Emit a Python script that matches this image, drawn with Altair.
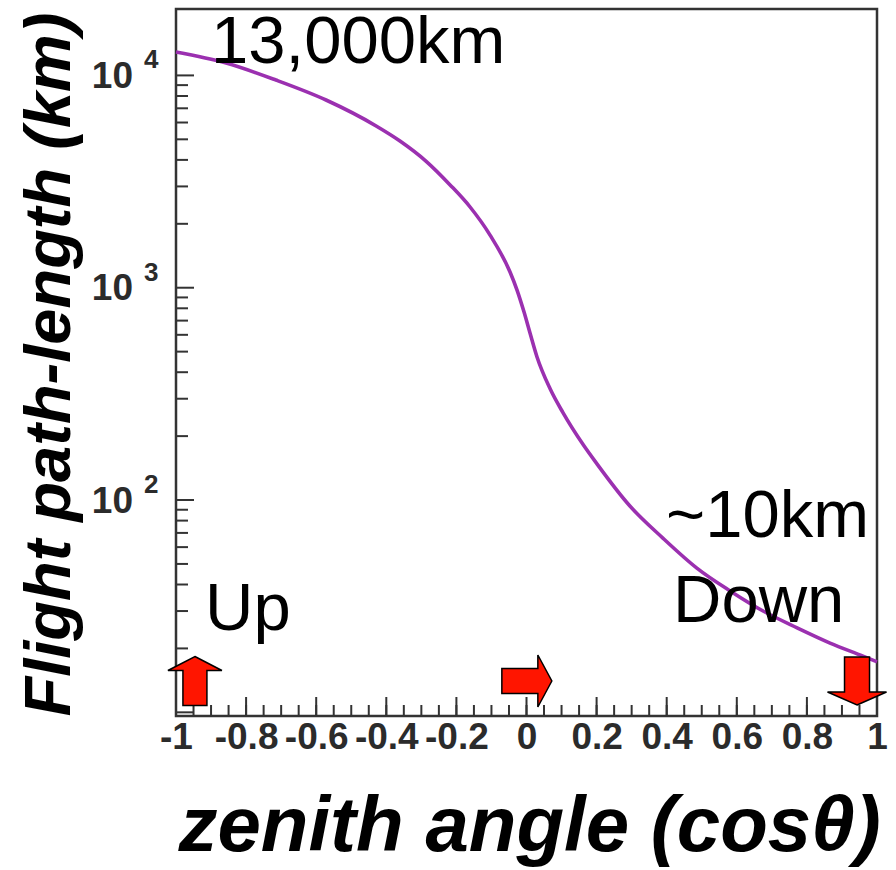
import altair as alt
import pandas as pd

# ---- data ----
cos_theta = [-1.0, -0.857, -0.715, -0.572, -0.429, -0.361, -0.287, -0.218, -0.161,
             -0.104, -0.047, -0.027, -0.007, 0.010, 0.030, 0.067, 0.104, 0.161,
             0.201, 0.295, 0.389, 0.486, 0.581, 0.675, 0.772, 0.866, 0.960, 1.0]
path_km = [12890, 11440, 9510, 7660, 5780, 4910, 3950, 3050, 2400,
           1770, 1186, 975, 768, 612, 472, 335, 258, 183,
           148, 93.7, 66.2, 47.8, 37.3, 30.0, 25.0, 21.2, 18.4, 17.3]

x_label_values = [-1, -0.8, -0.6, -0.4, -0.2, 0, 0.2, 0.4, 0.6, 0.8, 1]
x_minor_values = [round(-1 + 0.05 * i, 2) for i in range(41)]
y_major_values = [10, 100, 1000, 10000]
y_minor_values = [m * 10 ** e for e in (1, 2, 3) for m in range(2, 10)]
y_label_values = [100, 1000, 10000]
y_label_base = ["10", "10", "10"]
y_label_exp = ["2", "3", "4"]

annotations = ["13,000km", "~10km", "Up", "Down"]
arrow_x = [-0.946, 0.001, 0.943]

FONT = "Liberation Sans"
W, H = 701, 707
TICK = "#2b2b2b"

xs = alt.Scale(domain=[-1, 1], nice=False, zero=False)
ys = alt.Scale(type="log", domain=[9.61, 20550], nice=False)

x_axis = alt.Axis(
    values=x_label_values, labelExpr="'' + datum.value",
    labelFont=FONT, labelFontSize=37, labelFontWeight="bold", labelColor=TICK,
    labelPadding=3, ticks=False, tickSize=0, domain=False, grid=False,
    labelFlush=False, labelOverlap=False,
    title="zenith angle (cosθ)", titleFont=FONT, titleFontSize=78,
    titleFontWeight="bold", titleFontStyle="italic", titleColor="black",
    titleBaseline="alphabetic", titleY=134, titleX=353, titleAlign="center")

y_axis = alt.Axis(
    labels=False, ticks=False, tickSize=0, domain=False, grid=False,
    title="Flight path-length (km)", titleFont=FONT, titleFontSize=65,
    titleFontWeight="bold", titleFontStyle="italic", titleColor="black",
    titleBaseline="alphabetic", titleX=-107, titleY=355, titleAlign="center",
    titleAngle=270)

curve = alt.Chart(pd.DataFrame({"cos": cos_theta, "L": path_km})).mark_line(
    color="#9b30b0", strokeWidth=3.6, interpolate="monotone"
).encode(
    x=alt.X("cos:Q", scale=xs, axis=x_axis),
    y=alt.Y("L:Q", scale=ys, axis=y_axis),
)

def xticks(vals, length):
    return alt.Chart(pd.DataFrame({"v": vals})).mark_rule(color="#333", strokeWidth=2).encode(
        x=alt.X("v:Q", scale=xs, axis=x_axis), y=alt.value(H), y2=alt.value(H - length))

def yticks(vals, length):
    return alt.Chart(pd.DataFrame({"v": vals})).mark_rule(color="#333", strokeWidth=2).encode(
        y=alt.Y("v:Q", scale=ys, axis=y_axis), x=alt.value(0), x2=alt.value(length))

ylab = alt.Chart(pd.DataFrame({"v": y_label_values, "t": y_label_base})).mark_text(
    font=FONT, fontSize=37, fontWeight="bold", color=TICK, align="right",
    baseline="middle", dy=1.5
).encode(x=alt.value(-43), y=alt.Y("v:Q", scale=ys, axis=y_axis), text="t:N")

yexp = alt.Chart(pd.DataFrame({"v": y_label_values, "t": y_label_exp})).mark_text(
    font=FONT, fontSize=26, fontWeight="bold", color=TICK, align="left",
    baseline="middle", dy=-15
).encode(x=alt.value(-32), y=alt.Y("v:Q", scale=ys, axis=y_axis), text="t:N")

def note(i, x, y, align):
    return alt.Chart(pd.DataFrame({"t": [annotations[i]]})).mark_text(
        font=FONT, fontSize=67, color="black", align=align, baseline="alphabetic"
    ).encode(x=alt.value(x), y=alt.value(y), text="t:N")

UP = "M0,-0.98L1.08,-0.42L0.48,-0.42L0.48,0.98L-0.48,0.98L-0.48,-0.42L-1.08,-0.42Z"
RIGHT = "M1,0L0.44,1.04L0.44,0.5L-1,0.5L-1,-0.5L0.44,-0.5L0.44,-1.04Z"
DOWN = "M0,0.96L1.18,0.44L0.5,0.44L0.5,-0.96L-0.5,-0.96L-0.5,0.44L-1.18,0.44Z"

def arrow(i, shape):
    return alt.Chart(pd.DataFrame({"a": [arrow_x[i]]})).mark_point(
        shape=shape, size=2500, filled=True, fill="#ff1500", stroke="black",
        strokeWidth=1.5, opacity=1
    ).encode(x=alt.X("a:Q", scale=xs, axis=x_axis), y=alt.value(672))

chart = alt.layer(
    curve,
    xticks(x_minor_values, 11), xticks(x_label_values, 19),
    yticks(y_minor_values, 12), yticks(y_major_values, 18),
    ylab, yexp,
    arrow(0, UP), arrow(1, RIGHT), arrow(2, DOWN),
    note(0, 35, 54, "left"), note(1, 693, 528, "right"),
    note(2, 29, 621, "left"), note(3, 497, 613, "left"),
).properties(
    width=W, height=H,
    autosize=alt.AutoSizeParams(type="none"),
    padding={"left": 176, "top": 9, "right": 19, "bottom": 154},
).configure_view(stroke="#333", strokeWidth=2.5)

chart.save("out.html", embed_options={"renderer": "svg", "actions": False})
